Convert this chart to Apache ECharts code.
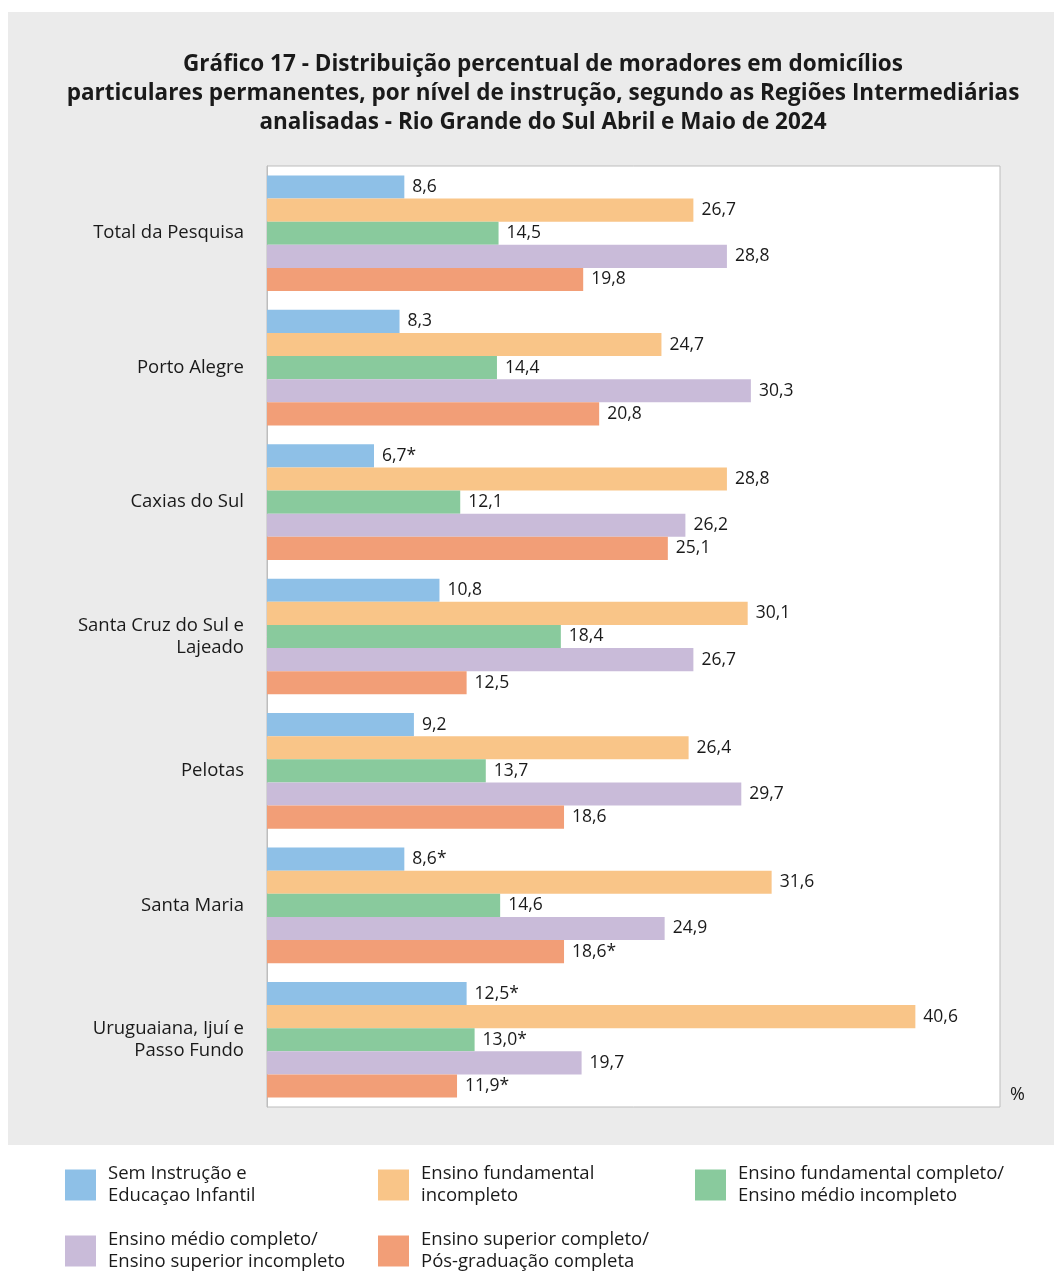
<!DOCTYPE html>
<html>
<head>
<meta charset="utf-8">
<script src="https://cdn.jsdelivr.net/npm/echarts@6/dist/echarts.min.js"></script>
<style>
  html, body { margin: 0; padding: 0; background: #fff; }
  #chart { width: 1054px; height: 1273px; }
</style>
</head>
<body>
<div id="chart"></div>
<script>
  // regiões (eixo vertical)
  var regioes = [
    'Total da Pesquisa',
    'Porto Alegre',
    'Caxias do Sul',
    'Santa Cruz do Sul e\nLajeado',
    'Pelotas',
    'Santa Maria',
    'Uruguaiana, Ijuí e\nPasso Fundo'
  ];

  // níveis de instrução (séries)
  var niveis = [
    'Sem Instrução e\nEducaçao Infantil',
    'Ensino fundamental\nincompleto',
    'Ensino fundamental completo/\nEnsino médio incompleto',
    'Ensino médio completo/\nEnsino superior incompleto',
    'Ensino superior completo/\nPós-graduação completa'
  ];

  var semInstrucao = [8.6, 8.3, 6.7, 10.8, 9.2, 8.6, 12.5];
  var fundIncompleto = [26.7, 24.7, 28.8, 30.1, 26.4, 31.6, 40.6];
  var fundCompleto = [14.5, 14.4, 12.1, 18.4, 13.7, 14.6, 13.0];
  var medioCompleto = [28.8, 30.3, 26.2, 26.7, 29.7, 24.9, 19.7];
  var superiorCompleto = [19.8, 20.8, 25.1, 12.5, 18.6, 18.6, 11.9];

  // valores marcados com asterisco
  var asteriscoSem = [false, false, true, false, false, true, true];
  var asteriscoFundInc = [false, false, false, false, false, false, false];
  var asteriscoFundComp = [false, false, false, false, false, false, true];
  var asteriscoMedio = [false, false, false, false, false, false, false];
  var asteriscoSuperior = [false, false, false, false, false, true, true];

  var valores = [semInstrucao, fundIncompleto, fundCompleto, medioCompleto, superiorCompleto];
  var asteriscos = [asteriscoSem, asteriscoFundInc, asteriscoFundComp, asteriscoMedio, asteriscoSuperior];
  var cores = ['#8ec0e7', '#f9c588', '#89ca9d', '#c9bbd9', '#f29e77'];

  var fonte = '"Open Sans", Roboto, sans-serif';

  var series = niveis.map(function (nome, i) {
    return {
      name: nome,
      type: 'bar',
      data: valores[i],
      barGap: 0,
      barCategoryGap: '14%',
      itemStyle: { color: cores[i] },
      label: {
        show: true,
        position: 'right',
        distance: 8,
        fontFamily: fonte,
        fontSize: 17.5,
        color: '#1a1a1a',
        formatter: function (p) {
          return p.value.toFixed(1).replace('.', ',') + (asteriscos[i][p.dataIndex] ? '*' : '');
        }
      }
    };
  });

  // posições das legendas (3 colunas)
  var legPos = [[65, 1163], [378, 1163], [695, 1163], [65, 1229], [378, 1229]];
  var legendas = niveis.map(function (nome, i) {
    return {
      data: [nome],
      left: legPos[i][0],
      top: legPos[i][1],
      padding: 0,
      itemWidth: 31,
      itemHeight: 31,
      itemGap: 0,
      icon: 'rect',
      selectedMode: false,
      textStyle: {
        fontFamily: fonte,
        fontSize: 18.5,
        lineHeight: 22,
        color: '#1a1a1a',
        padding: [0, 0, 0, 7]
      }
    };
  });

  var myChart = echarts.init(document.getElementById('chart'));
  myChart.setOption({
    animation: false,
    backgroundColor: '#ffffff',
    title: {
      text: 'Gráfico 17 - Distribuição percentual de moradores em domicílios\nparticulares permanentes, por nível de instrução, segundo as Regiões Intermediárias\nanalisadas - Rio Grande do Sul Abril e Maio de 2024',
      left: 538,
      top: 45,
      textAlign: 'center',
      textStyle: {
        fontFamily: fonte,
        fontSize: 22.5,
        fontWeight: 'bold',
        lineHeight: 29,
        color: '#1a1a1a'
      }
    },
    graphic: [
      {
        type: 'rect',
        z: -10,
        silent: true,
        shape: { x: 8, y: 12, width: 1046, height: 1133 },
        style: { fill: '#ebebeb' }
      },
      {
        type: 'text',
        left: 1010,
        top: 1086,
        style: { text: '%', fontFamily: fonte, fontSize: 18, fill: '#1a1a1a' }
      }
    ],
    legend: legendas,
    grid: {
      left: 267,
      top: 166,
      right: 54,
      bottom: 166,
      show: true,
      backgroundColor: '#ffffff',
      borderColor: '#bdbdbd',
      borderWidth: 1
    },
    xAxis: {
      type: 'value',
      min: 0,
      max: 45.9,
      show: false
    },
    yAxis: {
      type: 'category',
      data: regioes,
      inverse: true,
      axisLine: { show: true, lineStyle: { color: '#bdbdbd' } },
      axisTick: { show: false },
      axisLabel: {
        margin: 23,
        fontFamily: fonte,
        fontSize: 18.5,
        lineHeight: 22,
        color: '#1a1a1a',
        align: 'right'
      }
    },
    series: series
  });
</script>
</body>
</html>
